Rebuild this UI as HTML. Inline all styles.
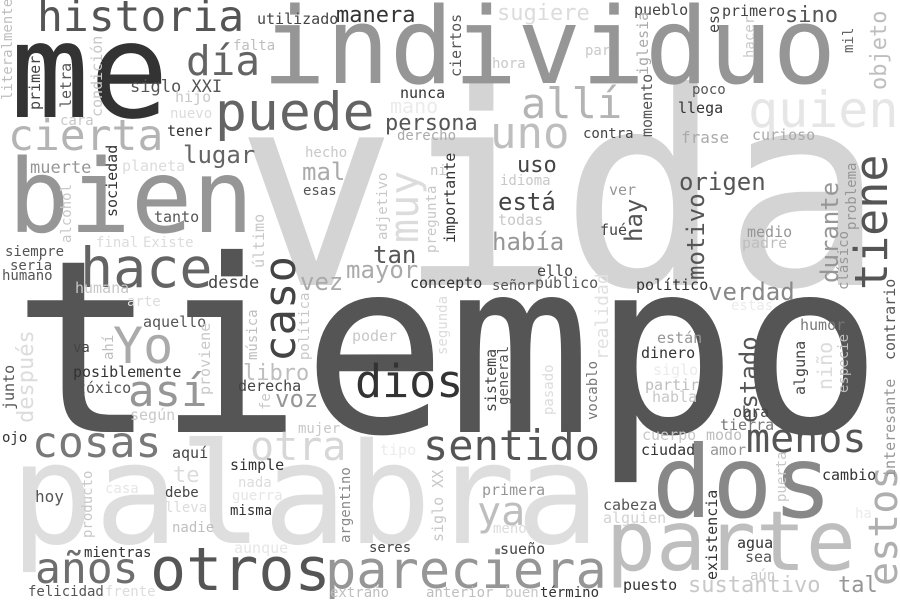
<!DOCTYPE html>
<html><head><meta charset="utf-8"><style>
html,body{margin:0;padding:0;background:#fff}
svg{display:block}
text{font-family:"DejaVu Sans Mono","Liberation Mono",monospace}
</style></head><body>
<svg width="900" height="600" id="wc"></svg>
<script>
// word, x, baseline y, font size, grey level, vertical flag
const W=[
["tiempo",12,432,241,85,0],
["vida",235,285,270,212,0],
["palabra",10,543,140,222,0],
["individuo",262,83,106,150,0],
["me",10,117,132,51,0],
["bien",8,232,102,150,0],
["dos",652,517,100,136,0],
["parte",606,570,83,190,0],
["otros",150,590,60,85,0],
["pareciera",325,588,52,150,0],
["sentido",423,460,42,85,0],
["cosas",32,457,43,120,0],
["hace",80,287,55,100,0],
["puede",215,130,53,100,0],
["historia",37,31,43,85,0],
["día",186,75,41,100,0],
["allí",521,118,42,180,0],
["uno",490,148,44,190,0],
["quien",748,127,50,230,0],
["cierta",8,150,43,180,0],
["dios",355,397,45,51,0],
["menos",746,452,40,85,0],
["tiene",887,290,45,85,1],
["Yo",113,363,50,170,0],
["así",128,406,44,150,0],
["años",35,583,43,110,0],
["otra",250,460,40,215,0],
["caso",295,362,44,68,1],
["ya",477,525,40,190,0],
["estos",897,586,40,175,1],
["muy",418,243,40,220,1],
["mayor",346,278,24,170,0],
["tan",373,263,24,85,0],
["había",492,250,24,150,0],
["está",498,210,24,68,0],
["uso",517,172,22,68,0],
["origen",679,190,24,85,0],
["motivo",704,280,24,85,1],
["hay",642,242,24,85,1],
["durante",838,283,24,150,1],
["estado",757,423,24,85,1],
["verdad",708,300,24,136,0],
["lugar",183,163,24,100,0],
["persona",385,130,22,85,0],
["manera",336,22,22,51,0],
["siglo XXI",130,92,17,85,0],
["mal",302,180,24,170,0],
["desde",208,288,17,68,0],
["vez",300,290,24,170,0],
["voz",275,407,24,150,0],
["libro",243,380,22,190,0],
["sino",785,22,22,85,0],
["sugiere",497,20,22,220,0],
["utilizado",257,24,15,68,0],
["falta",233,50,14,190,0],
["literalmente",12,100,14,190,1],
["primer",40,110,15,68,1],
["letra",71,108,15,85,1],
["condición",102,117,15,200,1],
["hijo",175,102,15,200,0],
["nuevo",170,118,14,220,0],
["cara",60,125,14,200,0],
["tener",167,136,15,51,0],
["muerte",30,173,17,150,0],
["planeta",122,171,15,220,0],
["sociedad",117,217,15,51,1],
["alcohol",71,243,14,200,1],
["tanto",154,222,15,85,0],
["final",96,247,14,220,0],
["Existe",143,247,14,220,0],
["último",264,268,15,200,1],
["siempre",5,256,14,85,0],
["sería",10,270,14,85,0],
["humano",2,280,14,85,0],
["humana",75,293,15,200,0],
["arte",127,306,14,220,0],
["aquello",143,327,15,85,0],
["va",73,352,14,68,0],
["ahí",113,360,14,190,1],
["después",33,423,22,220,1],
["junto",14,410,15,85,1],
["posiblemente",73,377,15,51,0],
["tóxico",77,393,15,85,0],
["proviene",210,395,15,200,1],
["música",257,360,14,190,1],
["política",309,360,14,200,1],
["derecha",238,391,15,68,0],
["fe",270,410,14,200,1],
["según",130,420,15,200,0],
["ojo",2,442,14,51,0],
["aquí",172,458,15,68,0],
["te",173,482,22,220,0],
["simple",230,470,15,51,0],
["producto",92,538,14,200,1],
["casa",105,493,14,230,0],
["nada",238,487,14,220,0],
["guerra",232,500,14,230,0],
["hoy",35,502,16,85,0],
["debe",165,497,14,68,0],
["lleva",165,512,14,220,0],
["misma",230,515,14,51,0],
["nadie",172,532,14,190,0],
["aunque",234,553,15,230,0],
["mientras",84,557,14,51,0],
["felicidad",28,596,14,85,0],
["frente",105,596,14,220,0],
["ciertos",461,77,15,85,1],
["par",585,55,14,200,0],
["hora",492,68,14,200,0],
["nunca",400,98,15,51,0],
["mano",390,113,20,235,0],
["derecho",397,140,14,170,0],
["contra",583,138,14,68,0],
["hecho",305,157,14,200,0],
["esas",303,195,14,85,0],
["adjetivo",387,240,14,200,1],
["ni",430,175,14,200,0],
["pregunta",436,253,14,200,1],
["importante",455,243,15,51,1],
["idioma",500,185,14,200,0],
["todas",498,225,15,200,0],
["ello",537,276,15,68,0],
["concepto",410,288,15,51,0],
["señor",492,290,14,85,0],
["público",535,288,15,85,0],
["pueblo",634,15,15,68,0],
["eso",719,33,15,68,1],
["primero",722,16,15,68,0],
["objeto",886,90,22,190,1],
["mil",853,53,14,100,1],
["hacer",754,58,14,200,1],
["iglesia",648,75,15,170,1],
["momento",652,137,15,85,1],
["poco",692,94,14,85,0],
["llega",678,113,15,51,0],
["frase",681,143,16,170,0],
["curioso",752,140,15,170,0],
["ver",609,195,15,150,0],
["fué",600,235,15,68,0],
["medio",747,237,15,150,0],
["padre",742,248,15,190,0],
["problema",856,230,14,150,1],
["clásico",848,290,14,150,1],
["político",636,290,15,51,0],
["poder",352,341,15,200,0],
["segunda",447,355,14,220,1],
["sistema",496,412,15,68,1],
["general",508,405,14,85,1],
["pasado",553,415,14,220,1],
["vocablo",597,420,14,120,1],
["realidad",608,360,18,225,1],
["mujer",298,433,14,200,0],
["tipo",380,455,15,235,0],
["argentino",350,543,14,136,1],
["siglo XX",443,542,15,200,1],
["primera",482,495,15,150,0],
["menor",493,533,14,220,0],
["seres",369,552,14,68,0],
["sueño",500,554,15,68,0],
["extraño",330,597,14,190,0],
["anterior",426,597,14,190,0],
["buen",505,597,14,200,0],
["término",540,597,14,51,0],
["estas",731,310,14,235,0],
["humor",800,330,15,120,0],
["están",657,343,15,150,0],
["niño",832,390,20,220,1],
["alguna",805,395,15,68,1],
["especie",848,393,14,190,1],
["contrario",895,360,15,85,1],
["interesante",895,478,15,150,1],
["dinero",641,358,15,51,0],
["siglo",653,375,15,235,0],
["partir",645,390,15,190,0],
["habla",652,402,15,200,0],
["obra",733,417,15,68,0],
["tierra",720,430,15,120,0],
["cuerpo",642,440,15,200,0],
["modo",706,440,15,190,0],
["ciudad",641,455,15,51,0],
["amor",710,455,15,150,0],
["puerta",786,502,14,200,1],
["cambio",822,480,15,51,0],
["cabeza",603,510,15,85,0],
["alguien",603,523,15,210,0],
["existencia",717,580,15,51,1],
["ha",855,518,14,235,0],
["agua",737,548,15,51,0],
["sea",745,562,15,85,0],
["aún",750,580,14,200,0],
["puesto",623,590,15,51,0],
["sustantivo",688,592,22,200,0],
["tal",838,592,22,150,0]
];
const svg=document.getElementById('wc');
const NS='http://www.w3.org/2000/svg';
for(const w of W){
  const t=document.createElementNS(NS,'text');
  t.setAttribute('font-size',w[3]);
  t.setAttribute('fill',`rgb(${w[4]},${w[4]},${w[4]})`);
  if(w[5]) t.setAttribute('transform',`translate(${w[1]},${w[2]}) rotate(-90)`);
  else {t.setAttribute('x',w[1]);t.setAttribute('y',w[2]);}
  t.textContent=w[0];
  
  
  svg.appendChild(t);
}
</script>
</body></html>
